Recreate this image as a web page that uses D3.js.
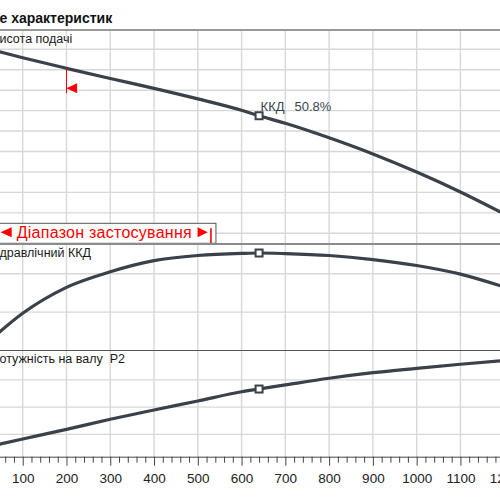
<!DOCTYPE html>
<html>
<head>
<meta charset="utf-8">
<script src="https://cdn.jsdelivr.net/npm/d3@7"></script>
<style>
  body { margin: 0; background: #fff; }
  svg { display: block; font-family: "Liberation Sans", Arial, sans-serif; }
</style>
</head>
<body>
<div id="chart"></div>
<script>
/* global d3 */

// Pump curve data (Q in m3/h)
const flowQ   = [0, 100, 200, 300, 400, 500, 600, 640, 700, 800, 900, 1000, 1100, 1200];
const headH   = [28.28, 27.17, 26.14, 25.15, 24.18, 23.15, 22.03, 21.50, 20.76, 19.34, 17.76, 15.99, 14.04, 11.89];
const effEta  = [0, 19.4, 32.9, 41.0, 46.8, 49.5, 50.6, 50.8, 50.5, 49.5, 47.4, 44.3, 39.8, 33.1];
const powerP2 = [29.5, 36.6, 43.7, 51.1, 57.9, 64.5, 71.3, 73.3, 76.3, 81.2, 85.3, 88.5, 91.5, 94.3];

// Axis and grid values
const tickQ   = [100, 200, 300, 400, 500, 600, 700, 800, 900, 1000, 1100, 1200];
const gridH   = [10, 12, 14, 16, 18, 20, 22, 24, 26, 28];
const gridEta = [20, 40];
const gridP   = [40, 60, 80];

// Duty point and application range
const dutyQ = 640;
const dutyEta = 50.8;
const rangeQ = [200, 530];

const chartTitle = "е характеристик";
const panelTitles = ["исота подачі", "дравлічний ККД", "отужність на валу  P2"];
const rangeLabel = "Діапазон застосування";

function pumpchart() {
  let width = 500, height = 500,
      top = 30, axisY = 456.7;

  let curveColor = "#3a4149",
      gridColor = "#d8d8d8";

  // Shared flow scale (left part of the chart is cut off)
  let xScale = d3.scaleLinear().domain([0, 1200]).range([-21.05, 504.2]);

  // One y scale per panel
  let panels = [
    { y: d3.scaleLinear().domain([8.95, 29.89]).range([244, top]), values: headH, grid: gridH,
      title: panelTitles[0], titleY: 43, line: "#999", lineW: 1.8 },
    { y: d3.scaleLinear().domain([0, 55.5]).range([350.5, 244]), values: effEta, grid: gridEta,
      title: panelTitles[1], titleY: 256.7, line: "#8a8a8a", lineW: 1.8 },
    { y: d3.scaleLinear().domain([23.6, 101.6]).range([axisY, 350.5]), values: powerP2, grid: gridP,
      title: panelTitles[2], titleY: 362.7, line: "#555", lineW: 1.2 }
  ];

  function chart(selector) {
    let svg = d3.select(selector)
      .append("svg")
      .attr("width", width)
      .attr("height", height);

    // Vertical grid lines
    svg.append("g")
      .selectAll("line")
      .data(tickQ)
      .enter().append("line")
      .attr("x1", d => xScale(d)).attr("x2", d => xScale(d))
      .attr("y1", top).attr("y2", axisY)
      .attr("stroke", gridColor).attr("stroke-width", 1.4);

    // Horizontal grid lines per panel
    panels.forEach(p => {
      svg.append("g")
        .selectAll("line")
        .data(p.grid)
        .enter().append("line")
        .attr("x1", 0).attr("x2", width)
        .attr("y1", d => p.y(d)).attr("y2", d => p.y(d))
        .attr("stroke", gridColor).attr("stroke-width", 1.4);
    });

    // Application range box
    let hAtStart = headH[flowQ.indexOf(rangeQ[0])];
    let xEnd = xScale(rangeQ[1]);
    let boxTop = 223.3, boxBottom = panels[0].y.range()[0] - 0.7;
    svg.append("rect")
      .attr("x", -5).attr("y", boxTop)
      .attr("width", xEnd + 5 + 5).attr("height", boxBottom - boxTop)
      .attr("fill", "#fff").attr("stroke", "#555").attr("stroke-width", 1);

    let midY = boxTop + 9;
    svg.append("path")
      .attr("d", `M0.5,${midY} L11.7,${midY - 5} L11.7,${midY + 5} Z`)
      .attr("fill", "#ff0000");
    svg.append("text")
      .attr("x", 16.7).attr("y", boxTop + 15)
      .attr("font-size", 16)
      .attr("textLength", 175).attr("lengthAdjust", "spacing")
      .attr("fill", "#ff0000")
      .text(rangeLabel);
    svg.append("path")
      .attr("d", `M${xEnd - 13.4},${midY - 5} L${xEnd - 3.1},${midY} L${xEnd - 13.4},${midY + 5} Z`)
      .attr("fill", "#ff0000");
    svg.append("line")
      .attr("x1", xEnd).attr("x2", xEnd)
      .attr("y1", boxTop + 5).attr("y2", boxBottom)
      .attr("stroke", "#ff0000").attr("stroke-width", 1.6);

    // Panel separator lines
    panels.forEach(p => {
      let yTop = p.y.range()[1];
      svg.append("line")
        .attr("x1", 0).attr("x2", width)
        .attr("y1", yTop).attr("y2", yTop)
        .attr("stroke", p.line).attr("stroke-width", p.lineW);
    });

    // Panel titles
    panels.forEach(p => {
      svg.append("text")
        .attr("x", -0.5).attr("y", p.titleY)
        .attr("font-size", 12.5)
        .attr("fill", "#1a1a1a")
        .attr("xml:space", "preserve")
        .style("white-space", "pre")
        .text(p.title);
    });

    // Curves and duty point markers
    let iDuty = flowQ.indexOf(dutyQ);
    panels.forEach(p => {
      let line = d3.line()
        .x((d, i) => xScale(flowQ[i]))
        .y(d => p.y(d))
        .curve(d3.curveMonotoneX);

      svg.append("path")
        .datum(p.values)
        .attr("d", line)
        .attr("fill", "none")
        .attr("stroke", curveColor)
        .attr("stroke-width", 3.2);

      svg.append("rect")
        .attr("x", xScale(dutyQ) - 3.5)
        .attr("y", p.y(p.values[iDuty]) - 3.5)
        .attr("width", 7).attr("height", 7)
        .attr("fill", "#fff")
        .attr("stroke", curveColor)
        .attr("stroke-width", 2);
    });

    // Efficiency label at duty point
    let hy = panels[0].y(headH[iDuty]);
    let lbl = svg.append("text")
      .attr("x", xScale(dutyQ) + 1.5).attr("y", hy - 5)
      .attr("font-size", 13)
      .attr("fill", "#3b4552");
    lbl.append("tspan").text("ККД");
    lbl.append("tspan").attr("dx", 10).text(dutyEta.toFixed(1) + "%");

    // Red start-of-range marker on the head curve
    let x0 = xScale(rangeQ[0]), y0 = panels[0].y(hAtStart);
    svg.append("line")
      .attr("x1", x0).attr("x2", x0)
      .attr("y1", y0).attr("y2", y0 + 25)
      .attr("stroke", "#ff0000").attr("stroke-width", 1);
    svg.append("path")
      .attr("d", `M${x0},${y0 + 20} L${x0 + 10.6},${y0 + 15} L${x0 + 10.6},${y0 + 25} Z`)
      .attr("fill", "#ff0000");

    // X axis: minor then major ticks
    let minor = d3.range(0, 1201, 20).filter(d => d % 100 !== 0);
    svg.append("g")
      .attr("transform", `translate(0,${axisY})`)
      .call(d3.axisBottom(xScale).tickValues(minor).tickSize(6).tickSizeOuter(0).tickFormat(""))
      .call(g => g.select(".domain").remove())
      .call(g => g.selectAll("line").attr("stroke", "#444"));

    svg.append("g")
      .attr("transform", `translate(0,${axisY})`)
      .call(d3.axisBottom(xScale).tickValues(tickQ).tickSize(9).tickSizeOuter(0)
        .tickPadding(8).tickFormat(d3.format("d")))
      .call(g => g.select(".domain").attr("stroke", "#444"))
      .call(g => g.selectAll("line").attr("stroke", "#444"))
      .call(g => g.selectAll("text")
        .attr("font-family", "Liberation Sans, Arial, sans-serif")
        .attr("font-size", 13.5)
        .attr("fill", "#222"));

    // Title
    svg.append("text")
      .attr("x", -0.5).attr("y", 22.5)
      .attr("font-size", 14)
      .attr("font-weight", "bold")
      .attr("fill", "#111")
      .text(chartTitle);
  }

  return chart;
}

pumpchart()("#chart");
</script>
</body>
</html>
